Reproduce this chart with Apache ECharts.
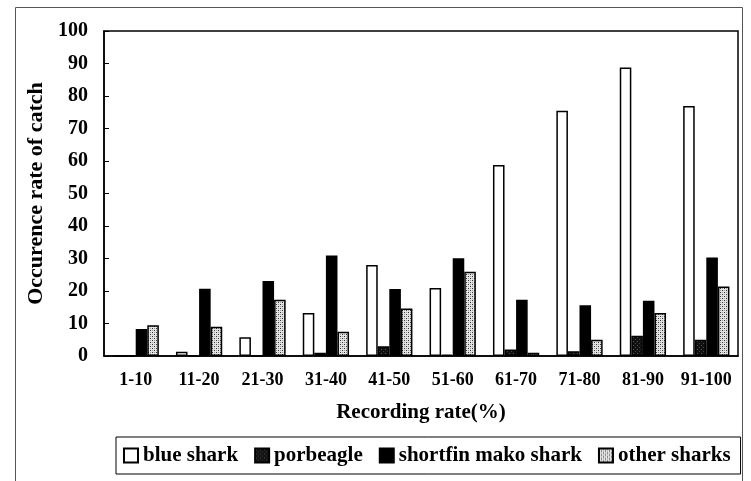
<!DOCTYPE html>
<html>
<head>
<meta charset="utf-8">
<script src="https://cdn.jsdelivr.net/npm/echarts@6/dist/echarts.min.js"></script>
<style>html,body{margin:0;padding:0;background:#fff;}#c{width:751px;height:481px;}</style>
</head>
<body>
<div id="c"></div>
<script>
const categories = ['1-10','11-20','21-30','31-40','41-50','51-60','61-70','71-80','81-90','91-100'];
const blueShark = [0, 1.3, 5.8, 13.2, 28, 20.9, 58.8, 75.5, 88.8, 76.9];
const porbeagle = [0, 0, 0, 1, 3, 0.4, 2, 1.5, 6.2, 5];
const shortfinMako = [8.3, 20.7, 23.1, 30.9, 20.6, 30.1, 17.3, 15.6, 17, 30.3];
const otherSharks = [9.5, 9, 17.3, 7.5, 14.6, 25.9, 1, 5, 13.2, 21.4];
const seriesNames = ['blue shark', 'porbeagle', 'shortfin mako shark', 'other sharks'];
const yTicks = {min: 0, max: 100, interval: 10};

function makePattern(bg, dots) {
  const cv = document.createElement('canvas');
  cv.width = 4; cv.height = 4;
  const ctx = cv.getContext('2d');
  ctx.fillStyle = bg; ctx.fillRect(0, 0, 4, 4);
  dots.forEach(d => { ctx.fillStyle = d[2]; ctx.fillRect(d[0], d[1], 1, 1); });
  return {image: cv, repeat: 'repeat'};
}
const porbeaglePattern = makePattern('#111', [[1,1,'#555'],[3,3,'#444']]);
const otherPattern = makePattern('#e4e4e4', [[0,0,'#333'],[2,2,'#333'],[2,0,'#999'],[0,2,'#999']]);

const font = 'Liberation Serif';
const chart = echarts.init(document.getElementById('c'));
const border = {borderColor: '#000', borderWidth: 1.5};
chart.setOption({
  backgroundColor: '#fff',
  animation: false,
  graphic: [{
    type: 'rect', shape: {x: 15.5, y: 7.5, width: 727, height: 490},
    style: {fill: 'none', stroke: '#555', lineWidth: 1}, silent: true
  }],
  grid: {left: 104, right: 13, top: 31, bottom: 125, show: true, borderColor: '#000', borderWidth: 1.5, backgroundColor: 'transparent'},
  legend: {
    left: 116, top: 437,
    padding: [8, 10, 8, 7],
    borderColor: '#000', borderWidth: 1,
    icon: 'rect',
    itemWidth: 14, itemHeight: 14, itemGap: 16,
    textStyle: {fontFamily: font, fontWeight: 'bold', fontSize: 21, color: '#000'},
    data: seriesNames
  },
  xAxis: {
    type: 'category', data: categories,
    axisLine: {lineStyle: {color: '#000', width: 1.5}},
    axisTick: {inside: true, length: 5, lineStyle: {color: '#000'}},
    axisLabel: {interval: 0, fontFamily: font, fontWeight: 'bold', fontSize: 18, color: '#000', margin: 15},
    name: 'Recording rate(%)', nameLocation: 'middle', nameGap: 46,
    nameTextStyle: {fontFamily: font, fontWeight: 'bold', fontSize: 21, color: '#000'}
  },
  yAxis: {
    type: 'value', min: yTicks.min, max: yTicks.max, interval: yTicks.interval,
    axisLine: {show: true, lineStyle: {color: '#000', width: 1.5}},
    axisTick: {show: true, inside: true, length: 5, lineStyle: {color: '#000'}},
    splitLine: {show: false},
    axisLabel: {fontFamily: font, fontWeight: 'bold', fontSize: 20, color: '#000', margin: 16},
    name: 'Occurence rate of catch', nameLocation: 'middle', nameGap: 54,
    nameTextStyle: {fontFamily: font, fontWeight: 'bold', fontSize: 22, color: '#000'}
  },
  series: [
    {name: seriesNames[0], type: 'bar', data: blueShark, barGap: '0%', barCategoryGap: '27%', itemStyle: Object.assign({color: '#fff'}, border)},
    {name: seriesNames[1], type: 'bar', data: porbeagle, itemStyle: Object.assign({color: porbeaglePattern}, border)},
    {name: seriesNames[2], type: 'bar', data: shortfinMako, itemStyle: Object.assign({color: '#000'}, border)},
    {name: seriesNames[3], type: 'bar', data: otherSharks, itemStyle: Object.assign({color: otherPattern}, border)}
  ]
});
</script>
</body>
</html>
